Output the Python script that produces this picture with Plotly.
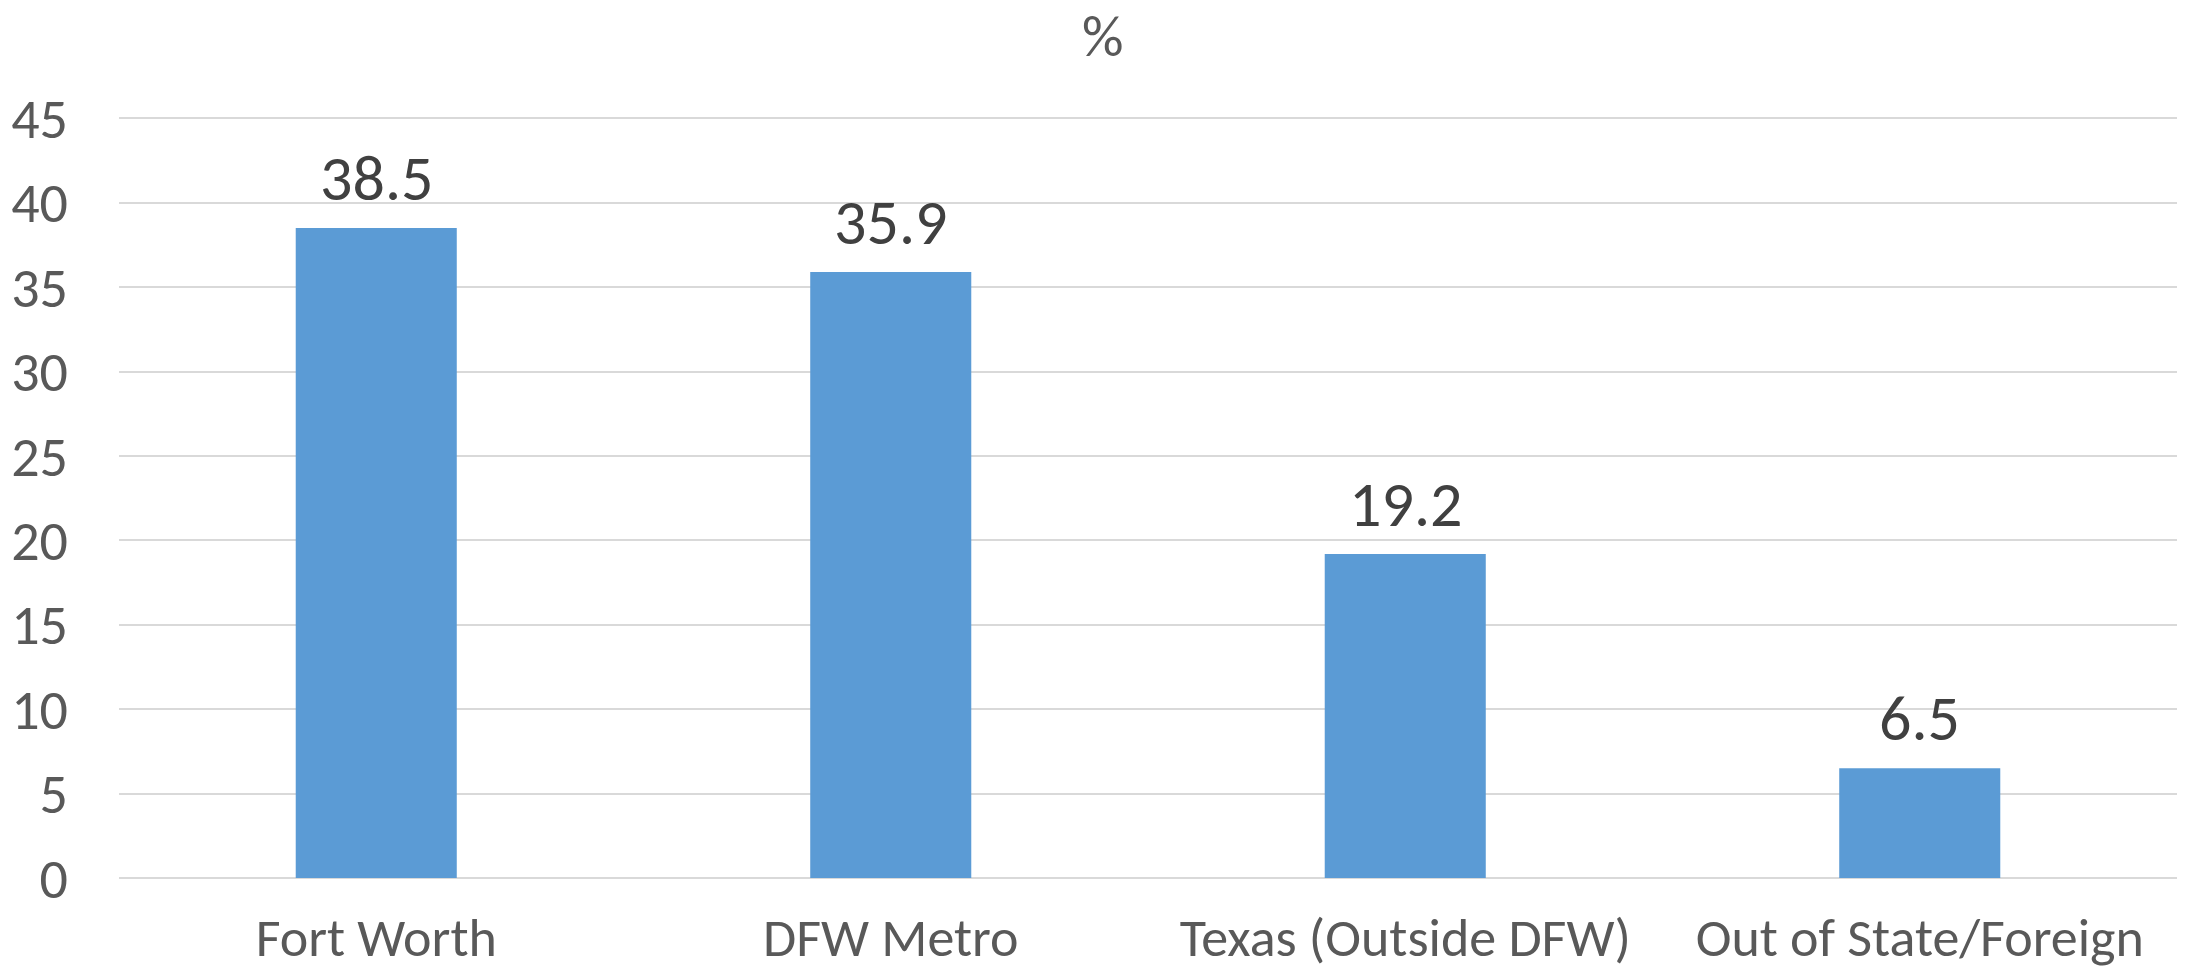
import plotly.graph_objects as go

categories = ["Fort Worth", "DFW Metro", "Texas (Outside DFW)", "Out of State/Foreign"]
values = [38.5, 35.9, 19.2, 6.5]
y_ticks = [0, 5, 10, 15, 20, 25, 30, 35, 40, 45]
title_text = "%"

FONT = "Carlito, Calibri, Lato, sans-serif"

fig = go.Figure()
fig.add_trace(go.Bar(
    x=categories, y=values,
    marker=dict(color="#5B9BD5", line=dict(width=0)),
    hoverinfo="x+y",
))

for c, v in zip(categories, values):
    fig.add_annotation(
        x=c, y=v, text=f"{v:.1f}", showarrow=False,
        yanchor="bottom", yshift=9,
        font=dict(family=FONT, size=64, color="#404040"),
    )

fig.update_layout(
    width=2188, height=972,
    paper_bgcolor="white", plot_bgcolor="white",
    margin=dict(l=119, r=11, t=115, b=94, autoexpand=False),
    bargap=0.687,
    showlegend=False,
    title=dict(text=title_text, x=0.504, xanchor="center", xref="container",
               y=1 - 36 / 972, yanchor="middle",
               font=dict(family=FONT, size=58, color="#595959")),
    font=dict(family=FONT, color="#595959"),
)
fig.update_xaxes(
    showgrid=False, showline=False, zeroline=False, automargin=False,
    tickfont=dict(family=FONT, size=54, color="#595959"),
    ticks="", ticklabelstandoff=23,
)
fig.update_yaxes(
    range=[0, 45.2], tickvals=y_ticks, automargin=False,
    showgrid=True, gridcolor="#D9D9D9", gridwidth=2,
    zeroline=True, zerolinecolor="#D9D9D9", zerolinewidth=2,
    showline=False, ticks="", ticklabelstandoff=50,
    tickfont=dict(family=FONT, size=56, color="#595959"),
)

fig.write_html(
    "out.html",
    config={"displayModeBar": False},
    post_script="document.body.style.margin='0';document.body.style.overflow='hidden';",
)
